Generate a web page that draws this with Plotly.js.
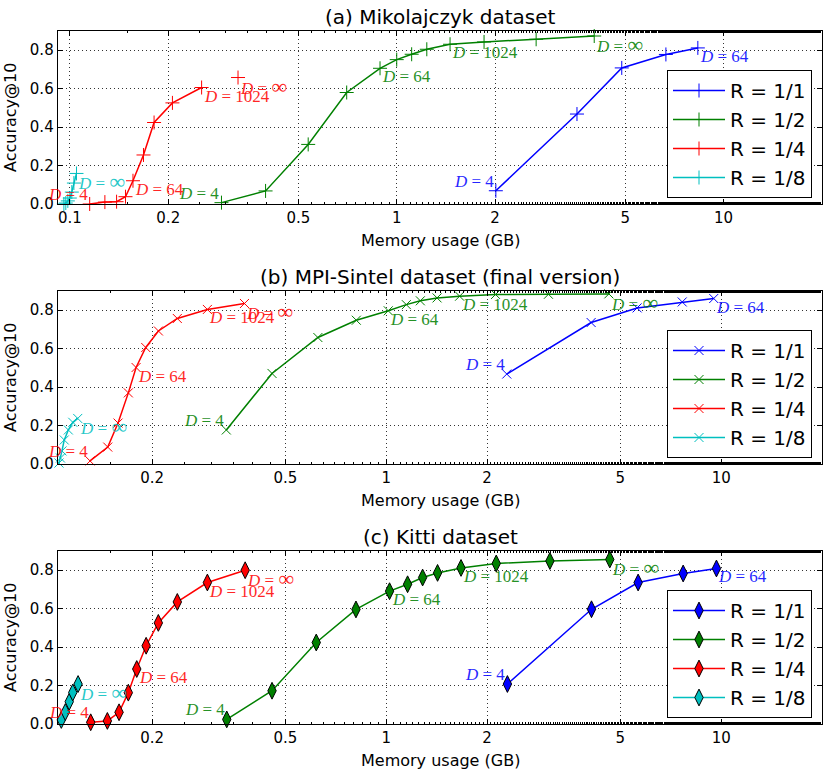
<!DOCTYPE html>
<html>
<head>
<meta charset="utf-8">
<script src="https://cdn.plot.ly/plotly-3.0.1.min.js"></script>
<style>body{margin:0;background:#fff}#chart{width:830px;height:779px}</style>
</head>
<body>
<div id="chart"></div>
<script>
// tick labels
const xTicksA = [0.1, 0.2, 0.5, 1, 2, 5, 10];
const xTicksBC = [0.2, 0.5, 1, 2, 5, 10];
const yTicks = [0, 0.2, 0.4, 0.6, 0.8];
const seriesNames = ['R = 1/1', 'R = 1/2', 'R = 1/4', 'R = 1/8'];

// (a) Mikolajczyk dataset
const memA1 = [2.01, 3.56, 4.88, 6.66, 8.34];
const accA1 = [0.069, 0.468, 0.708, 0.778, 0.812];
const labA1 = ['4', '', '', '', '64'];
const memA2 = [0.291, 0.397, 0.536, 0.703, 0.889, 1.0, 1.111, 1.236, 1.456, 1.85, 2.67, 4.02];
const accA2 = [0.007, 0.068, 0.31, 0.58, 0.706, 0.751, 0.779, 0.805, 0.831, 0.843, 0.857, 0.874];
const labA2 = ['4', '', '', '', '64', '', '', '', '1024', '', '', '∞'];
const memA4 = [0.115, 0.128, 0.139, 0.148, 0.156, 0.168, 0.181, 0.206, 0.253, null, 0.327];
const accA4 = [0.0, 0.01, 0.012, 0.038, 0.121, 0.255, 0.424, 0.526, 0.606, null, 0.658];
const labA4 = ['4', '', '', '', '64', '', '', '', '1024', '', '∞'];
const memA8 = [0.0959, 0.0972, 0.0986, 0.1, 0.1014, 0.1029, 0.1048];
const accA8 = [0.0, 0.005, 0.016, 0.031, 0.062, 0.109, 0.159];
const labA8 = ['', '', '', '', '', '', '∞'];

// (b) MPI-Sintel dataset (final version)
const memB1 = [2.29, 4.09, 5.61, 7.65, 9.5];
const accB1 = [0.468, 0.736, 0.812, 0.843, 0.861];
const labB1 = ['4', '', '', '', '64'];
const memB2 = [0.333, 0.456, 0.625, 0.814, 1.014, 1.148, 1.264, 1.418, 1.656, 2.12, 3.05, 4.62];
const accB2 = [0.177, 0.471, 0.658, 0.748, 0.797, 0.829, 0.849, 0.864, 0.873, 0.882, 0.883, 0.885];
const labB2 = ['4', '', '', '', '64', '', '', '', '1024', '', '', '∞'];
const memB4 = [0.1305, 0.1474, 0.1582, 0.1698, 0.1791, 0.1914, 0.2088, 0.2378, 0.2924, 0.3773];
const accB4 = [0.016, 0.088, 0.213, 0.37, 0.502, 0.606, 0.692, 0.757, 0.804, 0.835];
const labB4 = ['4', '', '', '', '64', '', '', '', '1024', '∞'];
const memB8 = [0.1054, 0.1065, 0.1076, 0.1093, 0.1124, 0.1159, 0.1199];
const accB8 = [0.005, 0.031, 0.068, 0.125, 0.177, 0.217, 0.237];
const labB8 = ['', '', '', '', '', '', '∞'];

// (c) Kitti dataset
const memC1 = [2.3, 4.1, 5.65, 7.7, 9.68];
const accC1 = [0.208, 0.597, 0.736, 0.783, 0.809];
const labC1 = ['4', '', '', '', '64'];
const memC2 = [0.334, 0.456, 0.618, 0.812, 1.023, 1.158, 1.284, 1.423, 1.672, 2.13, 3.08, 4.65];
const accC2 = [0.024, 0.173, 0.424, 0.596, 0.691, 0.727, 0.762, 0.786, 0.812, 0.835, 0.848, 0.856];
const labC2 = ['4', '', '', '', '64', '', '', '', '1024', '', '', '∞'];
const memC4 = [0.1311, 0.147, 0.1593, 0.1698, 0.1799, 0.1919, 0.2087, 0.2378, 0.2924, 0.3791];
const accC4 = [0.009, 0.016, 0.061, 0.163, 0.286, 0.407, 0.526, 0.635, 0.736, 0.8];
const labC4 = ['4', '', '', '', '64', '', '', '', '1024', '∞'];
const memC8 = [0.1071, 0.1101, 0.1131, 0.1159, 0.1202];
const accC8 = [0.021, 0.062, 0.116, 0.164, 0.208];
const labC8 = ['', '', '', '', '∞'];

const colors = ['#0000ff', '#008000', '#ff0000', '#00bfbf'];

const panels = [
    {title: '(a) Mikolajczyk dataset', ticks: xTicksA, xmin: 0.092,
     mem: [memA1, memA2, memA4, memA8], acc: [accA1, accA2, accA4, accA8],
     lab: [labA1, labA2, labA4, labA8], top: 31, bottom: 204,
     marker: {symbol: 'cross-thin', size: 10, lw: 1}},
    {title: '(b) MPI-Sintel dataset (final version)', ticks: xTicksBC, xmin: 0.1047,
     mem: [memB1, memB2, memB4, memB8], acc: [accB1, accB2, accB4, accB8],
     lab: [labB1, labB2, labB4, labB8], top: 291, bottom: 464,
     marker: {symbol: 'x-thin', size: 9, lw: 1}},
    {title: '(c) Kitti dataset', ticks: xTicksBC, xmin: 0.1047,
     mem: [memC1, memC2, memC4, memC8], acc: [accC1, accC2, accC4, accC8],
     lab: [labC1, labC2, labC4, labC8], top: 551, bottom: 724,
     marker: {symbol: 'diamond-tall', size: 12, lw: 1}}
];

const W = 830, H = 779;
const left = 58, right = 822;
const data = [];
const annotations = [];
const layout = {
    width: W, height: H,
    margin: {l: 0, r: 0, t: 0, b: 0},
    paper_bgcolor: 'white', plot_bgcolor: 'white',
    font: {family: 'DejaVu Sans', size: 15, color: 'black'},
    annotations: annotations
};

function dText(d) {
    // infinity drawn larger, like the mathtext symbol
    const v = d === '∞' ? '<span style="font-size:22px">∞</span>' : d;
    return '<i>D</i> = ' + v;
}

panels.forEach((p, k) => {
    const n = k === 0 ? '' : String(k + 1);
    const legendKey = 'legend' + n;
    const domY = [1 - p.bottom / H, 1 - p.top / H];

    layout['xaxis' + n] = {
        type: 'log',
        domain: [left / W, right / W],
        anchor: 'y' + n,
        range: [Math.log10(p.xmin), Math.log10(20)],
        tickvals: p.ticks,
        ticktext: p.ticks.map(String),
        ticks: 'inside', ticklen: 5, tickcolor: 'black',
        minor: {ticks: 'inside', ticklen: 2, tickcolor: 'black', showgrid: false},
        showline: true, linecolor: 'black', linewidth: 1.3, mirror: 'ticks',
        showgrid: true, gridcolor: '#333', gridwidth: 1, griddash: '1px,3px',
        zeroline: false, automargin: false,
        tickfont: {size: 15}
    };
    layout['yaxis' + n] = {
        domain: domY,
        anchor: 'x' + n,
        range: [0, 0.9],
        tickvals: yTicks,
        ticktext: yTicks.map(v => v.toFixed(1)),
        ticks: 'inside', ticklen: 5, tickcolor: 'black',
        showline: true, linecolor: 'black', linewidth: 1.3, mirror: 'ticks',
        showgrid: true, gridcolor: '#333', gridwidth: 1, griddash: '1px,3px',
        zeroline: false, automargin: false,
        tickfont: {size: 15}
    };
    layout[legendKey] = {
        x: 812 / W, xanchor: 'right',
        y: 1 - (p.top + 39) / H, yanchor: 'top',
        bgcolor: 'white', bordercolor: 'black', borderwidth: 1,
        font: {size: 20, family: 'DejaVu Sans'},
        itemwidth: 52,
        tracegroupgap: 0
    };

    p.mem.forEach((xs, s) => {
        data.push({
            type: 'scatter', mode: 'lines+markers',
            name: seriesNames[s],
            x: xs, y: p.acc[s],
            xaxis: 'x' + n, yaxis: 'y' + n,
            legend: legendKey,
            connectgaps: false,
            cliponaxis: false,
            line: {color: colors[s], width: 1.5},
            marker: {
                symbol: p.marker.symbol, size: p.marker.size,
                color: colors[s],
                line: {color: k === 2 ? 'black' : colors[s], width: p.marker.lw}
            }
        });
        p.lab[s].forEach((d, i) => {
            if (!d) return;
            const first = d === '4';
            annotations.push({
                xref: 'x' + n, yref: 'y' + n,
                x: Math.log10(xs[i]), y: p.acc[s][i],
                text: dText(d),
                showarrow: false,
                xanchor: first ? 'right' : 'left',
                yanchor: first ? 'bottom' : 'top',
                yshift: first ? -2 : (d === '∞' ? 6 : 3),
                font: {family: 'Liberation Serif', size: 17, color: colors[s]},
                opacity: 0.85
            });
        });
    });

    // panel title and axis titles
    annotations.push({
        xref: 'paper', yref: 'paper', x: (left + right) / 2 / W, y: 1 - (p.top - 14) / H,
        text: p.title, showarrow: false, xanchor: 'center', yanchor: 'middle',
        font: {size: 20}
    });
    annotations.push({
        xref: 'paper', yref: 'paper', x: (left + right) / 2 / W, y: 1 - (p.bottom + 36) / H,
        text: 'Memory usage (GB)', showarrow: false, xanchor: 'center', yanchor: 'middle',
        font: {size: 16}
    });
    annotations.push({
        xref: 'paper', yref: 'paper', x: 10.5 / W, y: 1 - (p.top + p.bottom) / 2 / H,
        text: 'Accuracy@10', showarrow: false, textangle: -90,
        xanchor: 'center', yanchor: 'middle',
        font: {size: 16}
    });
});

Plotly.newPlot('chart', data, layout, {displayModeBar: false, staticPlot: true});
</script>
</body>
</html>
